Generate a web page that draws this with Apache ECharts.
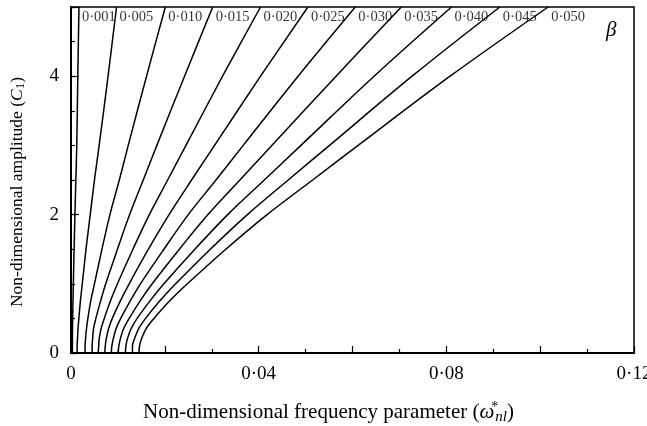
<!DOCTYPE html>
<html>
<head>
<meta charset="utf-8">
<script src="https://cdn.jsdelivr.net/npm/echarts@6/dist/echarts.min.js"></script>
<style>
  html, body { margin: 0; padding: 0; background: #fff; }
  #chart { width: 647px; height: 426px; }
</style>
</head>
<body>
<div id="chart"></div>
<script>
// Non-dimensional amplitude C1 at which each backbone curve is sampled
const amplitude = [0, 0.1, 0.2, 0.35, 0.5, 0.75, 1, 1.5, 2, 2.5, 3, 4, 5];

// Curve labels (beta)
const betaLabels = ['0·001', '0·005', '0·010', '0·015', '0·020', '0·025',
                    '0·030', '0·035', '0·040', '0·045', '0·050'];

// Non-dimensional frequency parameter for each beta, one value per amplitude
const freqB001 = [0.0003, 0.0003, 0.0003, 0.00032, 0.00035, 0.00042, 0.0005, 0.00066, 0.00084, 0.00103, 0.00123, 0.00145, 0.0017];
const freqB005 = [0.0013, 0.0013, 0.00138, 0.0015, 0.00168, 0.0020, 0.0024, 0.0032, 0.0041, 0.0050, 0.0060, 0.0079, 0.0097];
const freqB010 = [0.0030, 0.0030, 0.0031, 0.0033, 0.0036, 0.0042, 0.0050, 0.0066, 0.0083, 0.0103, 0.0122, 0.0161, 0.0201];
const freqB015 = [0.0045, 0.0045, 0.0046, 0.0048, 0.0053, 0.0063, 0.0074, 0.0099, 0.0125, 0.0154, 0.0183, 0.0242, 0.0302];
const freqB020 = [0.0058, 0.0059, 0.0060, 0.0064, 0.0071, 0.0084, 0.0099, 0.0132, 0.0167, 0.0206, 0.0245, 0.0323, 0.0404];
const freqB025 = [0.0072, 0.0073, 0.0075, 0.0080, 0.0088, 0.0105, 0.0124, 0.0165, 0.0209, 0.0257, 0.0306, 0.0404, 0.0505];
const freqB030 = [0.0086, 0.0087, 0.0090, 0.0096, 0.0106, 0.0126, 0.0148, 0.0198, 0.0250, 0.0309, 0.0367, 0.0484, 0.0606];
const freqB035 = [0.0100, 0.0102, 0.0105, 0.0112, 0.0124, 0.0147, 0.0173, 0.0231, 0.0292, 0.0360, 0.0428, 0.0565, 0.0704];
const freqB040 = [0.0116, 0.0117, 0.0120, 0.0128, 0.0141, 0.0168, 0.0198, 0.0264, 0.0334, 0.0412, 0.0490, 0.0646, 0.0811];
const freqB045 = [0.0131, 0.0131, 0.0135, 0.0144, 0.0159, 0.0189, 0.0223, 0.0297, 0.0376, 0.0463, 0.0551, 0.0727, 0.0914];
const freqB050 = [0.0145, 0.0146, 0.0150, 0.0160, 0.0177, 0.0210, 0.0248, 0.0330, 0.0418, 0.0515, 0.0612, 0.0808, 0.1017];

const freqSets = [freqB001, freqB005, freqB010, freqB015, freqB020, freqB025,
                  freqB030, freqB035, freqB040, freqB045, freqB050];

// Axis tick values
const xMax = 0.12, xStep = 0.02, xLabelStep = 0.04;
const yMax = 5, yMinorStep = 0.5, yMajorStep = 2;

const FONT = '"Liberation Serif", "Times New Roman", serif';

const curveSeries = freqSets.map((freq, k) => ({
  type: 'line',
  name: betaLabels[k],
  xAxisIndex: 0,
  yAxisIndex: 0,
  data: amplitude.map((c, i) => [freq[i], c]),
  smooth: 0.35,
  showSymbol: false,
  symbol: 'none',
  lineStyle: { color: '#000', width: 1.5 },
  z: 3
}));

// Beta labels sit just right of where each curve meets the top of the frame
const labelSeries = {
  type: 'scatter',
  xAxisIndex: 0,
  yAxisIndex: 0,
  symbolSize: 0,
  data: freqSets.map((freq, k) => ({ name: betaLabels[k], value: [freq[freq.length - 1], amplitude[amplitude.length - 1]] })),
  label: {
    show: true,
    position: 'right',
    distance: 1,
    offset: [2, 10],
    formatter: p => p.name,
    fontFamily: FONT,
    fontSize: 14.5,
    color: '#000'
  },
  silent: true,
  z: 4
};

const isMultiple = (v, step) => Math.abs(v / step - Math.round(v / step)) < 1e-6;

const chart = echarts.init(document.getElementById('chart'), null, { renderer: 'canvas' });
chart.setOption({
  animation: false,
  backgroundColor: '#fff',
  grid: {
    left: 71, right: 13, top: 7, bottom: 73,
    outerBoundsMode: 'none',
    containLabel: false,
    show: true, borderColor: '#000', borderWidth: 1.5, backgroundColor: 'transparent'
  },
  xAxis: [{
    type: 'value',
    min: 0, max: xMax, interval: xStep,
    axisLine: { show: true, onZero: false, lineStyle: { color: '#000', width: 2 } },
    axisTick: { show: true, inside: true, length: 7, lineStyle: { color: '#000', width: 1.2 } },
    minorTick: { show: true, splitNumber: 2, length: 4, lineStyle: { color: '#000', width: 1.2 } },
    splitLine: { show: false },
    axisLabel: {
      margin: 12,
      fontFamily: FONT, fontSize: 19, color: '#000',
      formatter: v => v === 0 ? '0' : (isMultiple(v, xLabelStep) ? v.toFixed(2).replace('.', '·') : '')
    },
    name: 'Non-dimensional frequency parameter ({w|ω}{sup|*}{sub|nl})',
    nameLocation: 'middle',
    nameGap: 47,
    nameTextStyle: {
      fontFamily: FONT, fontSize: 21, color: '#000',
      padding: [0, 48, 0, 0],
      rich: {
        w: { fontFamily: FONT, fontSize: 21, fontStyle: 'italic', color: '#000' },
        sup: { fontFamily: FONT, fontSize: 14, color: '#000', width: 1, verticalAlign: 'top', padding: [0, 0, 11, 0] },
        sub: { fontFamily: FONT, fontSize: 15, fontStyle: 'italic', color: '#000', verticalAlign: 'bottom', padding: [9, 0, 0, 0] }
      }
    }
  }],
  yAxis: [{
    type: 'value',
    min: 0, max: yMax, interval: yMinorStep,
    axisLine: { show: true, onZero: false, lineStyle: { color: '#000', width: 2 } },
    axisTick: { show: true, inside: true, length: 4, lineStyle: { color: '#000', width: 1.2 } },
    splitLine: { show: false },
    axisLabel: {
      margin: 12,
      fontFamily: FONT, fontSize: 19, color: '#000',
      formatter: v => isMultiple(v, yMajorStep) ? String(v) : ''
    },
    name: 'Non-dimensional amplitude ({c|C}{s|1})',
    nameLocation: 'middle',
    nameGap: 44,
    nameTextStyle: {
      fontFamily: FONT, fontSize: 17.5, color: '#000',
      padding: [0, 24, 0, 0],
      rich: {
        c: { fontFamily: FONT, fontSize: 17.5, fontStyle: 'italic', color: '#000' },
        s: { fontFamily: FONT, fontSize: 13, color: '#000', verticalAlign: 'bottom', padding: [6, 0, 0, 0] }
      }
    }
  }, {
    // longer ticks at the labelled amplitudes
    type: 'value',
    position: 'left',
    min: 0, max: yMax, interval: yMajorStep,
    axisLine: { show: false },
    axisTick: { show: true, inside: true, length: 8, lineStyle: { color: '#000', width: 1.2 } },
    axisLabel: { show: false },
    splitLine: { show: false }
  }],
  graphic: [{
    type: 'text',
    left: 606, top: 20,
    style: { text: 'β', font: 'italic 21px "Liberation Serif", serif', fill: '#000' }
  }],
  series: [...curveSeries, labelSeries]
});
</script>
</body>
</html>
